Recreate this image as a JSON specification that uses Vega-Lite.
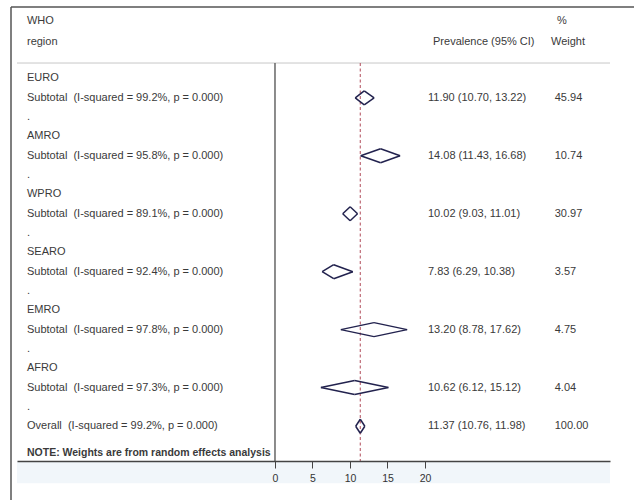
{
  "$schema": "https://vega.github.io/schema/vega-lite/v6.json",
  "width": 593,
  "height": 454,
  "autosize": {"type": "none"},
  "padding": {"left": 17, "top": 7, "right": 24, "bottom": 39},
  "background": "white",
  "config": {"view": {"stroke": null}, "font": "Liberation Sans"},
  "datasets": {
    "labels": [
      {"row": 1, "label": "WHO"},
      {"row": 2.1, "label": "region"},
      {"row": 4, "label": "EURO"},
      {"row": 5, "label": "Subtotal\u00a0 (I-squared = 99.2%, p = 0.000)"},
      {"row": 6, "label": "."},
      {"row": 7, "label": "AMRO"},
      {"row": 8, "label": "Subtotal\u00a0 (I-squared = 95.8%, p = 0.000)"},
      {"row": 9, "label": "."},
      {"row": 10, "label": "WPRO"},
      {"row": 11, "label": "Subtotal\u00a0 (I-squared = 89.1%, p = 0.000)"},
      {"row": 12, "label": "."},
      {"row": 13, "label": "SEARO"},
      {"row": 14, "label": "Subtotal\u00a0 (I-squared = 92.4%, p = 0.000)"},
      {"row": 15, "label": "."},
      {"row": 16, "label": "EMRO"},
      {"row": 17, "label": "Subtotal\u00a0 (I-squared = 97.8%, p = 0.000)"},
      {"row": 18, "label": "."},
      {"row": 19, "label": "AFRO"},
      {"row": 20, "label": "Subtotal\u00a0 (I-squared = 97.3%, p = 0.000)"},
      {"row": 21, "label": "."},
      {"row": 22, "label": "Overall\u00a0 (I-squared = 99.2%, p = 0.000)"}
    ],
    "est": [
      {"region": "EURO", "row": 5, "est": 11.90, "lo": 10.70, "hi": 13.22, "ci": "11.90 (10.70, 13.22)", "weight": "45.94"},
      {"region": "AMRO", "row": 8, "est": 14.08, "lo": 11.43, "hi": 16.68, "ci": "14.08 (11.43, 16.68)", "weight": "10.74"},
      {"region": "WPRO", "row": 11, "est": 10.02, "lo": 9.03, "hi": 11.01, "ci": "10.02 (9.03, 11.01)", "weight": "30.97"},
      {"region": "SEARO", "row": 14, "est": 7.83, "lo": 6.29, "hi": 10.38, "ci": "7.83 (6.29, 10.38)", "weight": "3.57"},
      {"region": "EMRO", "row": 17, "est": 13.20, "lo": 8.78, "hi": 17.62, "ci": "13.20 (8.78, 17.62)", "weight": "4.75"},
      {"region": "AFRO", "row": 20, "est": 10.62, "lo": 6.12, "hi": 15.12, "ci": "10.62 (6.12, 15.12)", "weight": "4.04"},
      {"region": "Overall", "row": 22, "est": 11.37, "lo": 10.76, "hi": 11.98, "ci": "11.37 (10.76, 11.98)", "weight": "100.00"}
    ]
  },
  "layer": [
    {
      "data": {"values": [{}]},
      "mark": {"type": "rect", "color": "#f1f6fa"},
      "encoding": {
        "x": {"datum": -34.4, "type": "quantitative", "scale": {"domain": [-34.4, 44.67], "nice": false, "zero": false},
          "axis": {"title": null, "values": [0, 5, 10, 15, 20], "grid": false, "domainColor": "#444444", "domainWidth": 1.5, "tickColor": "#444444", "tickWidth": 1, "tickSize": 7, "labelPadding": 5, "labelFontSize": 10.5, "labelColor": "#333333", "labelFont": "Liberation Sans", "zindex": 1}},
        "x2": {"datum": 44.67},
        "y": {"datum": 23.8, "type": "quantitative", "scale": {"domain": [0.3, 23.8], "nice": false, "zero": false, "reverse": true}, "axis": null},
        "y2": {"datum": 24.95}
      }
    },
    {
      "data": {"values": [{}]},
      "mark": {"type": "rule", "color": "#c8c8c8", "strokeWidth": 1},
      "encoding": {
        "x": {"datum": -34.4, "type": "quantitative"},
        "x2": {"datum": 44.67},
        "y": {"datum": 3.2, "type": "quantitative", "axis": null}
      }
    },
    {
      "data": {"values": [{}]},
      "mark": {"type": "rule", "color": "#666666", "strokeWidth": 1.5},
      "encoding": {
        "x": {"datum": 0, "type": "quantitative"},
        "y": {"datum": 3.2, "type": "quantitative", "axis": null},
        "y2": {"datum": 23.8}
      }
    },
    {
      "data": {"name": "est"},
      "transform": [{"filter": "datum.region === 'Overall'"}],
      "mark": {"type": "rule", "color": "#b04a58", "strokeWidth": 1, "strokeDash": [3, 2.5]},
      "encoding": {
        "x": {"field": "est", "type": "quantitative"},
        "y": {"datum": 3.2, "type": "quantitative", "axis": null},
        "y2": {"datum": 23.8}
      }
    },
    {
      "data": {"name": "est"},
      "mark": {"type": "rule", "color": "#22224e", "strokeWidth": 1.5, "y2Offset": -7},
      "encoding": {
        "x": {"field": "lo", "type": "quantitative"},
        "x2": {"field": "est"},
        "y": {"field": "row", "type": "quantitative", "axis": null},
        "y2": {"field": "row"}
      }
    },
    {
      "data": {"name": "est"},
      "mark": {"type": "rule", "color": "#22224e", "strokeWidth": 1.5, "y2Offset": 7},
      "encoding": {
        "x": {"field": "lo", "type": "quantitative"},
        "x2": {"field": "est"},
        "y": {"field": "row", "type": "quantitative", "axis": null},
        "y2": {"field": "row"}
      }
    },
    {
      "data": {"name": "est"},
      "mark": {"type": "rule", "color": "#22224e", "strokeWidth": 1.5, "yOffset": -7},
      "encoding": {
        "x": {"field": "est", "type": "quantitative"},
        "x2": {"field": "hi"},
        "y": {"field": "row", "type": "quantitative", "axis": null},
        "y2": {"field": "row"}
      }
    },
    {
      "data": {"name": "est"},
      "mark": {"type": "rule", "color": "#22224e", "strokeWidth": 1.5, "yOffset": 7},
      "encoding": {
        "x": {"field": "est", "type": "quantitative"},
        "x2": {"field": "hi"},
        "y": {"field": "row", "type": "quantitative", "axis": null},
        "y2": {"field": "row"}
      }
    },
    {
      "data": {"name": "labels"},
      "mark": {"type": "text", "align": "left", "baseline": "middle", "fontSize": 11, "color": "#3a3a3a", "font": "Liberation Sans"},
      "encoding": {
        "x": {"datum": -33.07, "type": "quantitative"},
        "y": {"field": "row", "type": "quantitative", "axis": null},
        "text": {"field": "label"}
      }
    },
    {
      "data": {"values": [{"row": 23.4, "label": "NOTE: Weights are from random effects analysis"}]},
      "mark": {"type": "text", "align": "left", "baseline": "middle", "fontSize": 10.5, "fontWeight": "bold", "color": "#3a3a3a", "font": "Liberation Sans"},
      "encoding": {
        "x": {"datum": -33.07, "type": "quantitative"},
        "y": {"field": "row", "type": "quantitative", "axis": null},
        "text": {"field": "label"}
      }
    },
    {
      "data": {"name": "est"},
      "mark": {"type": "text", "align": "left", "baseline": "middle", "fontSize": 11, "color": "#3a3a3a", "font": "Liberation Sans"},
      "encoding": {
        "x": {"datum": 20.4, "type": "quantitative"},
        "y": {"field": "row", "type": "quantitative", "axis": null},
        "text": {"field": "ci"}
      }
    },
    {
      "data": {"name": "est"},
      "mark": {"type": "text", "align": "left", "baseline": "middle", "fontSize": 11, "color": "#3a3a3a", "font": "Liberation Sans"},
      "encoding": {
        "x": {"datum": 37.3, "type": "quantitative"},
        "y": {"field": "row", "type": "quantitative", "axis": null},
        "text": {"field": "weight"}
      }
    },
    {
      "data": {"values": [{"row": 2.1, "label": "Prevalence (95% CI)"}]},
      "mark": {"type": "text", "align": "left", "baseline": "middle", "fontSize": 11, "color": "#3a3a3a", "font": "Liberation Sans"},
      "encoding": {
        "x": {"datum": 21.07, "type": "quantitative"},
        "y": {"field": "row", "type": "quantitative", "axis": null},
        "text": {"field": "label"}
      }
    },
    {
      "data": {"values": [{"row": 2.1, "label": "Weight"}]},
      "mark": {"type": "text", "align": "left", "baseline": "middle", "fontSize": 11, "color": "#3a3a3a", "font": "Liberation Sans"},
      "encoding": {
        "x": {"datum": 36.8, "type": "quantitative"},
        "y": {"field": "row", "type": "quantitative", "axis": null},
        "text": {"field": "label"}
      }
    },
    {
      "data": {"values": [{"row": 1, "label": "%"}]},
      "mark": {"type": "text", "align": "left", "baseline": "middle", "fontSize": 11, "color": "#3a3a3a", "font": "Liberation Sans"},
      "encoding": {
        "x": {"datum": 37.6, "type": "quantitative"},
        "y": {"field": "row", "type": "quantitative", "axis": null},
        "text": {"field": "label"}
      }
    },
    {
      "data": {"values": [{}]},
      "mark": {"type": "rule", "color": "#555555", "strokeWidth": 1.5},
      "encoding": {
        "x": {"datum": -35.2, "type": "quantitative"},
        "y": {"datum": 0.3, "type": "quantitative", "axis": null},
        "y2": {"datum": 26.5}
      }
    },
    {
      "data": {"values": [{}]},
      "mark": {"type": "rule", "color": "#555555", "strokeWidth": 1.5},
      "encoding": {
        "x": {"datum": -35.2, "type": "quantitative"},
        "x2": {"datum": 48},
        "y": {"datum": 0.3, "type": "quantitative", "axis": null}
      }
    }
  ]
}
